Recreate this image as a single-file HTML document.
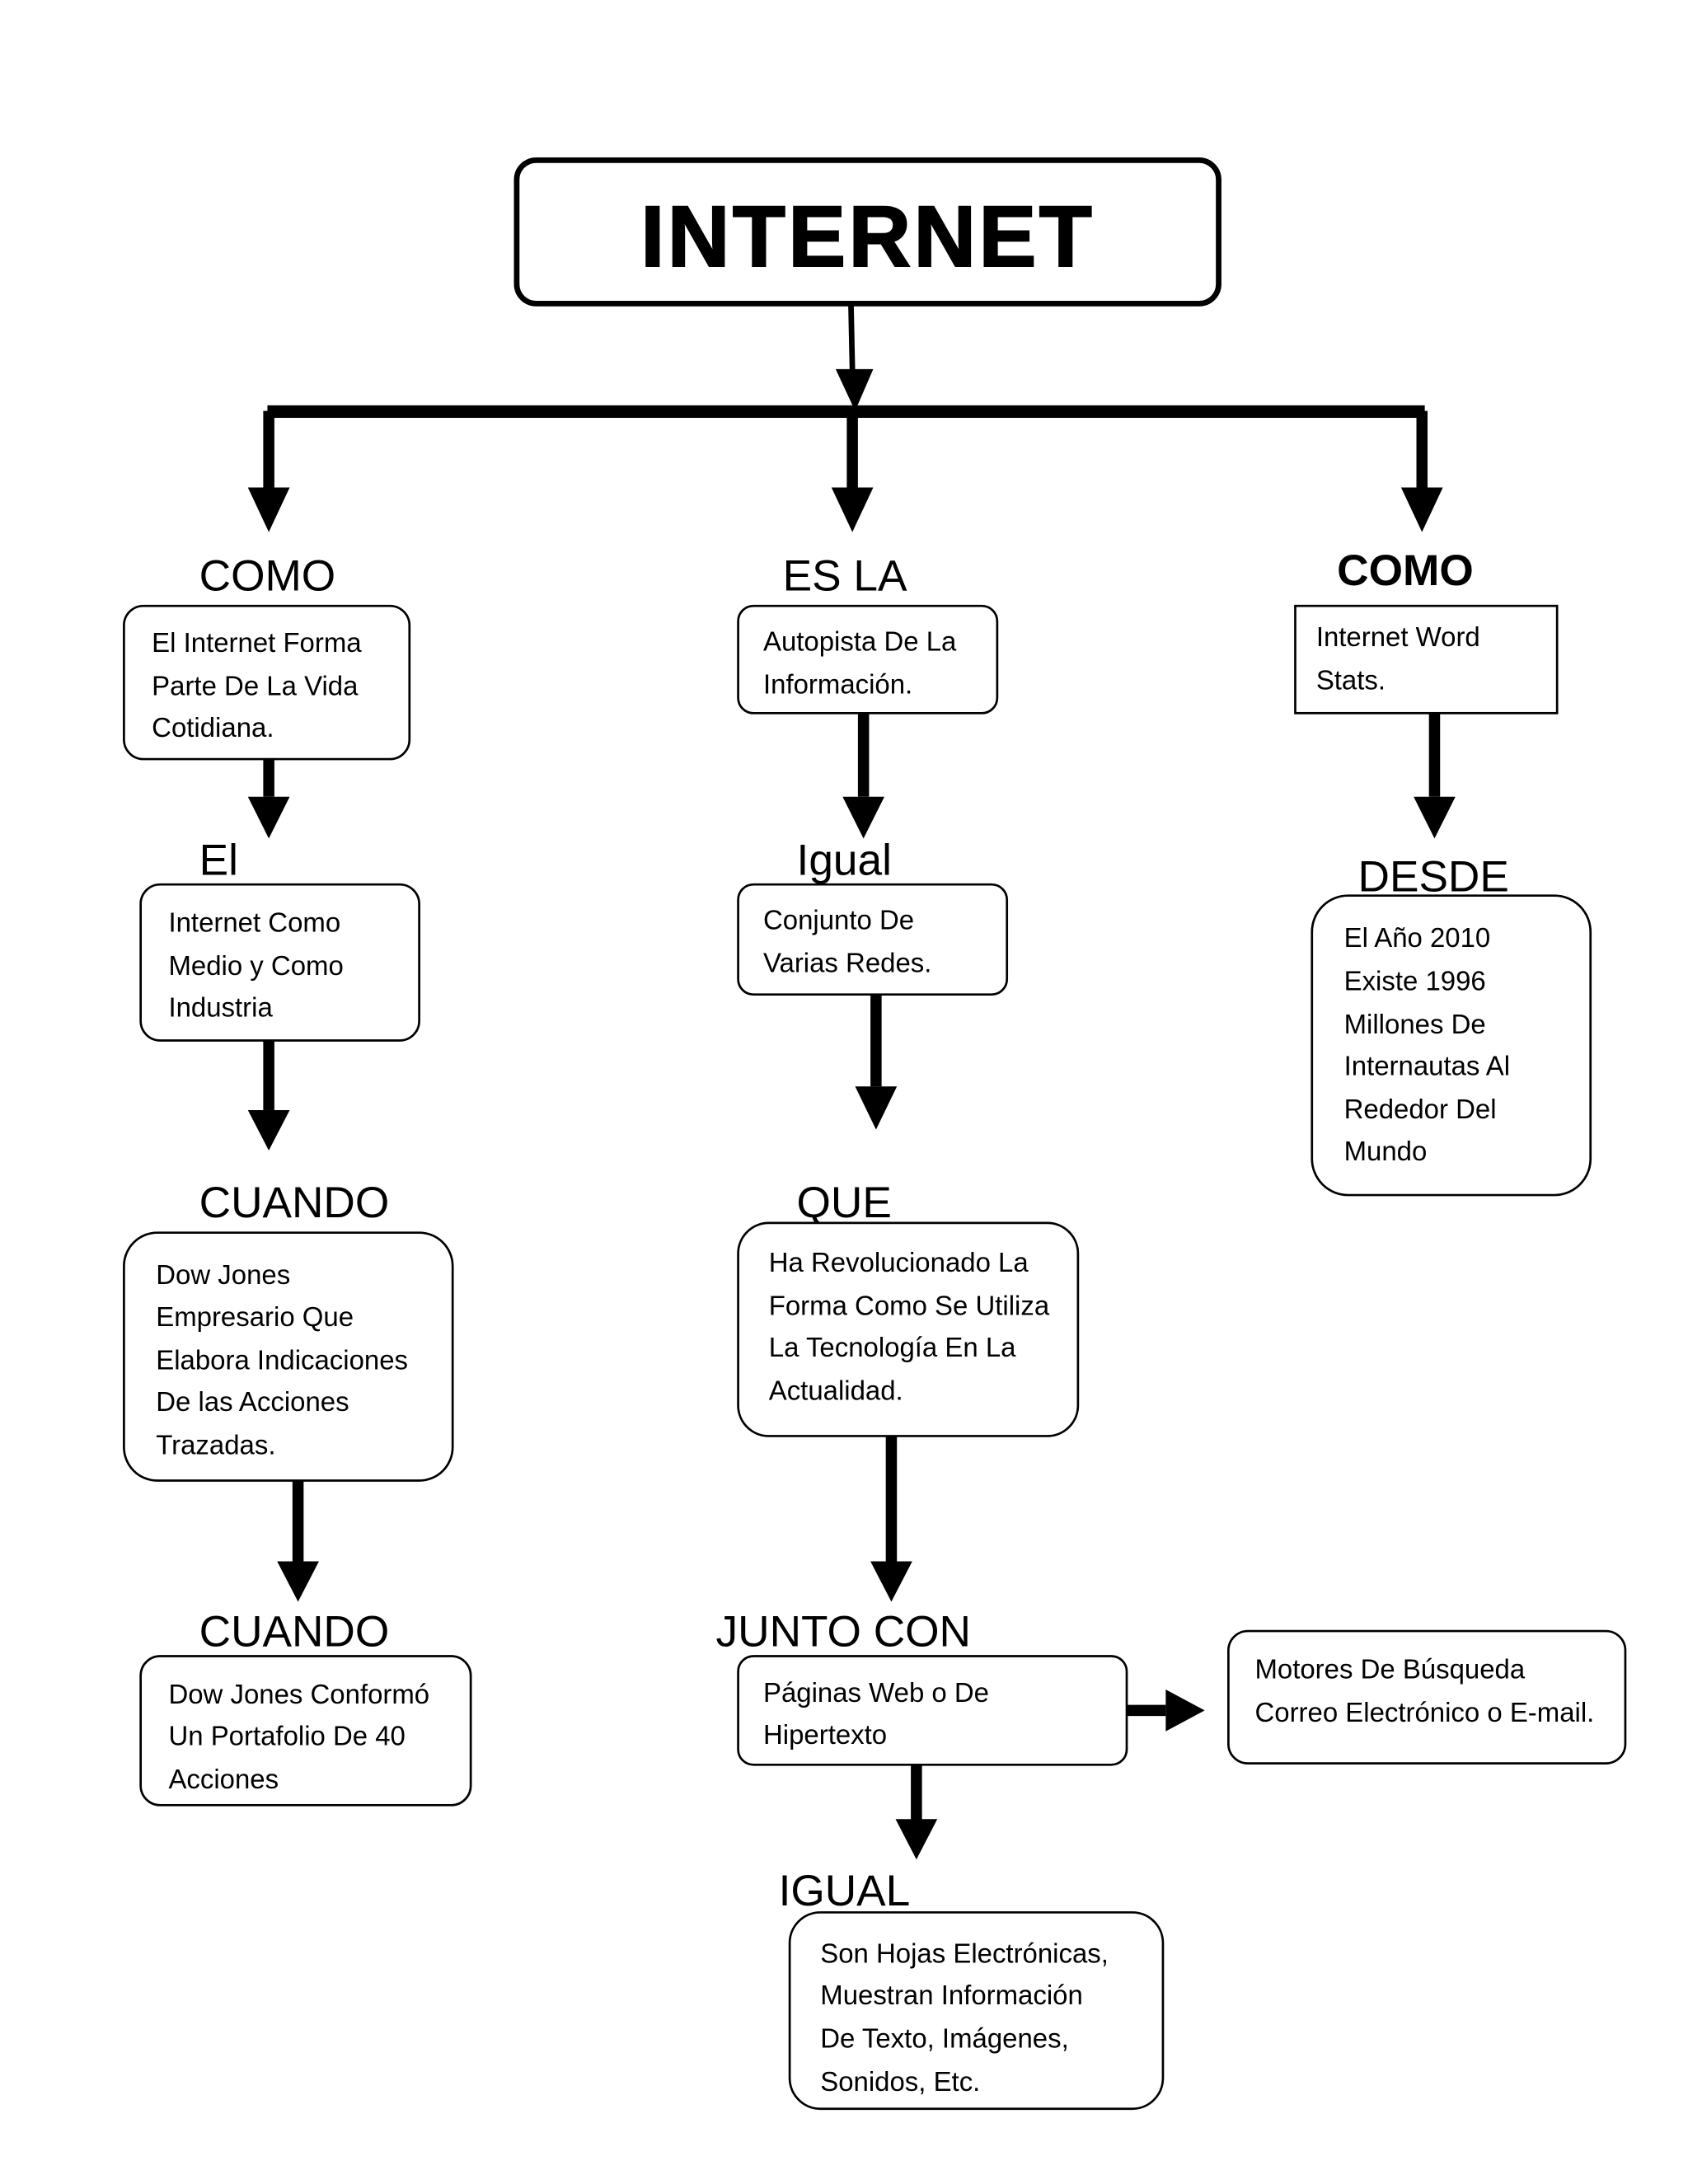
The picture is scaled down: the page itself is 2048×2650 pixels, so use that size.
<!DOCTYPE html>
<html><head><meta charset="utf-8"><style>
html,body{margin:0;padding:0;background:#fff;}
svg{display:block;}
text{font-family:"Liberation Sans",sans-serif;fill:#000;}
.l{font-size:31.5px;}
.t{font-size:19.5px;}
</style></head><body>
<svg width="2048" height="2650" viewBox="0 0 1212 1568" preserveAspectRatio="none" xmlns="http://www.w3.org/2000/svg">
<rect width="1212" height="1568" fill="#fff"/>
<rect x="371" y="115" width="504" height="103" rx="14" fill="#fff" stroke="#000" stroke-width="4"/>
<text x="623" y="191" text-anchor="middle" style="font-size:62px;font-weight:bold;letter-spacing:2px;stroke:#000;stroke-width:1.2">INTERNET</text>
<g fill="#000">
<path d="M609,218 L613,218 L614,265 L627,265 L614,295 L600,265 L610,265 Z"/>
<rect x="192" y="291" width="831" height="9"/>
<rect x="189" y="295" width="8" height="55"/><polygon points="178,350 208,350 193,382"/>
<rect x="608" y="295" width="8" height="55"/><polygon points="597,350 627,350 612,382"/>
<rect x="1017" y="295" width="8" height="55"/><polygon points="1006,350 1036,350 1021,382"/>
<rect x="189" y="545" width="8" height="27"/><polygon points="178,572 208,572 193,602"/>
<rect x="616" y="512" width="8" height="60"/><polygon points="605,572 635,572 620,602"/>
<rect x="1026" y="512" width="8" height="60"/><polygon points="1015,572 1045,572 1030,602"/>
<rect x="189" y="747" width="8" height="50"/><polygon points="178,797 208,797 193,826"/>
<rect x="625" y="714" width="8" height="66"/><polygon points="614,780 644,780 629,811"/>
<rect x="210" y="1063" width="8" height="58"/><polygon points="199,1121 229,1121 214,1150"/>
<rect x="636" y="1031" width="8" height="90"/><polygon points="625,1121 655,1121 640,1150"/>
<rect x="809" y="1224" width="28" height="8"/><polygon points="837,1213 837,1243 865,1228"/>
<rect x="654" y="1267" width="8" height="40"/><polygon points="643,1306 673,1306 658,1335"/>
</g>
<text class="l" x="143" y="424">COMO</text>
<text class="l" x="562" y="424">ES LA</text>
<text class="l" x="960" y="420" style="font-weight:bold">COMO</text>
<text class="l" x="143" y="628">El</text>
<text class="l" x="572" y="628">Igual</text>
<text class="l" x="975" y="640">DESDE</text>
<text class="l" x="143" y="874">CUANDO</text>
<text class="l" x="572" y="874">QUE</text>
<text class="l" x="143" y="1182">CUANDO</text>
<text class="l" x="514" y="1182">JUNTO CON</text>
<text class="l" x="559" y="1368">IGUAL</text>
<g fill="#fff" stroke="#000" stroke-width="1.6">
<rect x="89" y="435" width="205" height="110" rx="14"/>
<rect x="530" y="435" width="186" height="77" rx="11"/>
<rect x="930" y="435" width="188" height="77"/>
<rect x="101" y="635" width="200" height="112" rx="14"/>
<rect x="530" y="635" width="193" height="79" rx="11"/>
<rect x="942" y="643" width="200" height="215" rx="26"/>
<rect x="89" y="885" width="236" height="178" rx="24"/>
<rect x="530" y="878" width="244" height="153" rx="22"/>
<rect x="101" y="1189" width="237" height="107" rx="14"/>
<rect x="530" y="1189" width="279" height="78" rx="11"/>
<rect x="882" y="1171" width="285" height="95" rx="14"/>
<rect x="567" y="1373" width="268" height="141" rx="22"/>
</g>
<g>
<text class="t" x="109" y="468">El Internet Forma</text>
<text class="t" x="109" y="499">Parte De La Vida</text>
<text class="t" x="109" y="529">Cotidiana.</text>
<text class="t" x="548" y="467">Autopista De La</text>
<text class="t" x="548" y="498">Información.</text>
<text class="t" x="945" y="464">Internet Word</text>
<text class="t" x="945" y="495">Stats.</text>
<text class="t" x="121" y="669">Internet Como</text>
<text class="t" x="121" y="700">Medio y Como</text>
<text class="t" x="121" y="730">Industria</text>
<text class="t" x="548" y="667">Conjunto De</text>
<text class="t" x="548" y="698">Varias Redes.</text>
<text class="t" x="965" y="680">El Año 2010</text>
<text class="t" x="965" y="711">Existe 1996</text>
<text class="t" x="965" y="742">Millones De</text>
<text class="t" x="965" y="772">Internautas Al</text>
<text class="t" x="965" y="803">Rededor Del</text>
<text class="t" x="965" y="833">Mundo</text>
<text class="t" x="112" y="922">Dow Jones</text>
<text class="t" x="112" y="952">Empresario Que</text>
<text class="t" x="112" y="983">Elabora Indicaciones</text>
<text class="t" x="112" y="1013">De las Acciones</text>
<text class="t" x="112" y="1044">Trazadas.</text>
<text class="t" x="552" y="913">Ha Revolucionado La</text>
<text class="t" x="552" y="944">Forma Como Se Utiliza</text>
<text class="t" x="552" y="974">La Tecnología En La</text>
<text class="t" x="552" y="1005">Actualidad.</text>
<text class="t" x="121" y="1223">Dow Jones Conformó</text>
<text class="t" x="121" y="1253">Un Portafolio De 40</text>
<text class="t" x="121" y="1284">Acciones</text>
<text class="t" x="548" y="1222">Páginas Web o De</text>
<text class="t" x="548" y="1252">Hipertexto</text>
<text class="t" x="901" y="1205">Motores De Búsqueda</text>
<text class="t" x="901" y="1236">Correo Electrónico o E-mail.</text>
<text class="t" x="589" y="1409">Son Hojas Electrónicas,</text>
<text class="t" x="589" y="1439">Muestran Información</text>
<text class="t" x="589" y="1470">De Texto, Imágenes,</text>
<text class="t" x="589" y="1501">Sonidos, Etc.</text>
</g>
</svg>
</body></html>
